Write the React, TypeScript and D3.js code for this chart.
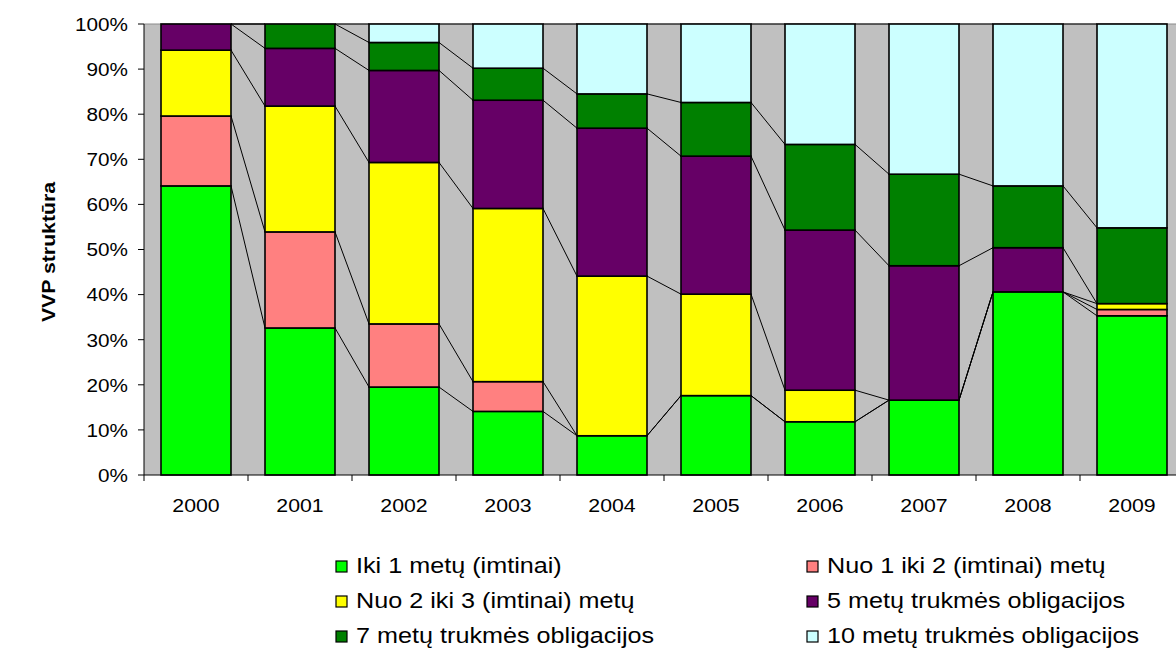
import React from "react";
import * as d3 from "d3";

const years = ["2000", "2001", "2002", "2003", "2004", "2005", "2006", "2007", "2008", "2009"];
const iki1 = [64.1, 32.6, 19.5, 14.1, 8.7, 17.6, 11.8, 16.6, 40.6, 35.3];
const nuo1iki2 = [15.5, 21.3, 14.0, 6.6, 0, 0, 0, 0, 0, 1.4];
const nuo2iki3 = [14.6, 27.9, 35.8, 38.4, 35.4, 22.5, 7.0, 0, 0, 1.3];
const metu5 = [5.8, 12.8, 20.4, 24.0, 32.8, 30.6, 35.5, 29.8, 9.8, 0];
const metu7 = [0, 5.4, 6.2, 7.1, 7.6, 11.9, 19.0, 20.3, 13.7, 16.8];
const metu10 = [0, 0, 4.1, 9.8, 15.5, 17.4, 26.7, 33.3, 35.9, 45.2];
const yTicks = [0, 10, 20, 30, 40, 50, 60, 70, 80, 90, 100];

const seriesNames = [
  "Iki 1 metų (imtinai)",
  "Nuo 1 iki 2 (imtinai) metų",
  "Nuo 2 iki 3 (imtinai) metų",
  "5 metų trukmės obligacijos",
  "7 metų trukmės obligacijos",
  "10 metų trukmės obligacijos",
];
const seriesValues = [iki1, nuo1iki2, nuo2iki3, metu5, metu7, metu10];
const colors = ["#00FF00", "#FF8080", "#FFFF00", "#660066", "#008000", "#CCFFFF"];

const W = 1176;
const H = 657;
const left = 144;
const right = 1184;
const top = 24;
const bottom = 475;
const FONT = "'Liberation Sans', Arial, sans-serif";
const SX = 1.12;

export default function App() {
  const keys = seriesNames.map((_, i) => "s" + i);
  const rows = years.map((y, i) => {
    const r: any = { year: y };
    keys.forEach((k, j) => (r[k] = seriesValues[j][i]));
    return r;
  });
  const stacked = d3.stack().keys(keys)(rows);

  const x = d3
    .scaleBand()
    .domain(years)
    .range([left, right])
    .paddingInner(34 / 104)
    .paddingOuter(17 / 104);
  const y = d3.scaleLinear().domain([0, 100]).range([bottom, top]);
  const bw = x.bandwidth();
  const step = x.step();

  const legendRows = [
    [0, 1],
    [2, 3],
    [4, 5],
  ];
  const legCols = [336, 807];
  const legRowY = [573, 608, 643];

  return (
    <svg
      width={W}
      height={H}
      style={{ position: "absolute", left: 0, top: 0, display: "block", background: "#fff" }}
      fontFamily={FONT}
    >
      <rect x={left} y={top} width={right - left} height={bottom - top} fill="#C0C0C0" />
      <line x1={left} x2={right} y1={top} y2={top} stroke="#8a8a8a" strokeWidth={1} />

      {stacked.map((s, si) => (
        <g key={"sl" + si}>
          {years.slice(0, -1).map((yr, i) => (
            <line
              key={i}
              x1={(x(yr) as number) + bw}
              y1={y(s[i][1])}
              x2={x(years[i + 1]) as number}
              y2={y(s[i + 1][1])}
              stroke="#000"
              strokeWidth={1}
            />
          ))}
        </g>
      ))}

      {stacked.map((s, si) => (
        <g key={"bars" + si} fill={colors[si]}>
          {s.map((d, i) =>
            d[1] - d[0] > 0 ? (
              <rect
                key={i}
                x={x(years[i]) as number}
                y={y(d[1])}
                width={bw}
                height={y(d[0]) - y(d[1])}
                stroke="#000"
                strokeWidth={1.6}
              />
            ) : null
          )}
        </g>
      ))}

      <line x1={left} x2={left} y1={top} y2={bottom} stroke="#000" strokeWidth={1} />
      {yTicks.map((t) => (
        <g key={"yt" + t}>
          <line x1={left - 6} x2={left} y1={y(t)} y2={y(t)} stroke="#000" strokeWidth={1} />
          <text
            transform={`translate(${left - 16},${y(t) + 6.8}) scale(${SX},1)`}
            textAnchor="end"
            fontSize={18.5}
            fill="#000"
          >
            {t + "%"}
          </text>
        </g>
      ))}

      <line x1={left} x2={right} y1={bottom} y2={bottom} stroke="#000" strokeWidth={1} />
      {d3.range(years.length + 1).map((i) => (
        <line
          key={"xt" + i}
          x1={left + step * i}
          x2={left + step * i}
          y1={bottom}
          y2={bottom + 6}
          stroke="#000"
          strokeWidth={1}
        />
      ))}
      {years.map((yr) => (
        <text
          key={"xl" + yr}
          transform={`translate(${(x(yr) as number) + bw / 2},${512}) scale(${SX},1)`}
          textAnchor="middle"
          fontSize={19}
          fill="#000"
        >
          {yr}
        </text>
      ))}

      <text
        transform={`translate(${55},${252}) rotate(-90) scale(${SX},1)`}
        textAnchor="middle"
        fontSize={19}
        fontWeight="bold"
        fill="#000"
      >
        VVP struktūra
      </text>

      {legendRows.map((row, ri) =>
        row.map((si, ci) => (
          <g key={"lg" + si}>
            <rect
              x={legCols[ci]}
              y={legRowY[ri] - 12}
              width={11}
              height={11}
              fill={colors[si]}
              stroke="#000"
              strokeWidth={1.2}
            />
            <text
              transform={`translate(${legCols[ci] + 20},${legRowY[ri]}) scale(${SX},1)`}
              fontSize={22.5}
              fill="#000"
            >
              {seriesNames[si]}
            </text>
          </g>
        ))
      )}
    </svg>
  );
}
